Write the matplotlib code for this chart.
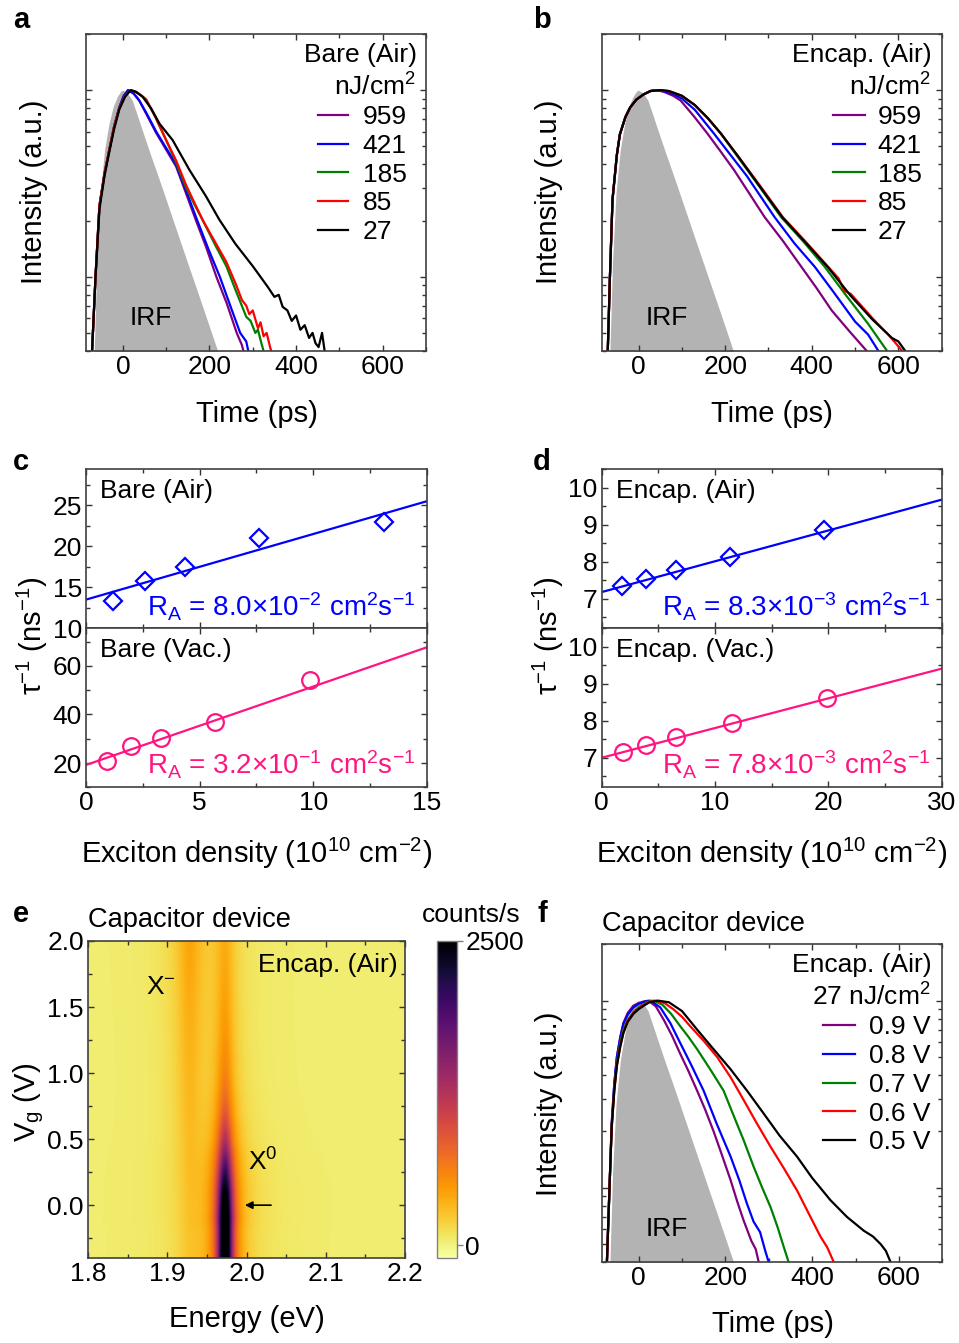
import numpy as np
import matplotlib
matplotlib.use('Agg')
import matplotlib.pyplot as plt
import matplotlib.ticker as mt
from matplotlib.ticker import MultipleLocator, LogLocator, NullFormatter

plt.rcParams['font.family'] = ['Liberation Sans', 'DejaVu Sans']
plt.rcParams['mathtext.fontset'] = 'custom'
plt.rcParams['mathtext.rm'] = 'Liberation Sans'
plt.rcParams['mathtext.it'] = 'Liberation Sans:italic'
plt.rcParams['mathtext.bf'] = 'Liberation Sans:bold'

# ---------------- data ----------------
irf_t = [-70, -66, -60, -52, -42, -32, -22, -12, -4, 0, 6, 14, 22, 40, 60, 80, 100, 120, 140, 160, 180, 200, 219, 226]
irf_I = [0.03, 0.04, 0.12, 0.28, 0.48, 0.66, 0.82, 0.93, 0.99, 1.0, 0.98, 0.94, 0.88, 0.66, 0.48, 0.354, 0.259, 0.189, 0.138, 0.101, 0.074, 0.054, 0.040, 0.035]

fluence_labels = ['959', '421', '185', '85', '27']
voltage_labels = ['0.9 V', '0.8 V', '0.7 V', '0.6 V', '0.5 V']
curve_colors = ['#800080', '#0000ff', '#008000', '#ff0000', '#000000']

# panel a: bare (air)
a_t_959 = [-76, -71, -63, -54, -42, -31, -20, -8, 2, 12, 25, 38, 55, 77, 100, 123, 146, 169, 192, 216, 240, 263, 275, 285]
a_I_959 = [0.03, 0.04, 0.10, 0.24, 0.36, 0.48, 0.64, 0.81, 0.93, 1.0, 0.96, 0.88, 0.74, 0.59, 0.48, 0.39, 0.28, 0.20, 0.145, 0.10, 0.072, 0.05, 0.043, 0.035]
a_t_421 = [-76, -71, -63, -54, -42, -31, -20, -8, 2, 12, 25, 38, 55, 77, 100, 123, 146, 172, 198, 224, 250, 271, 285, 295]
a_I_421 = [0.03, 0.04, 0.10, 0.24, 0.36, 0.48, 0.64, 0.81, 0.93, 1.0, 0.96, 0.88, 0.75, 0.60, 0.49, 0.40, 0.29, 0.20, 0.14, 0.10, 0.068, 0.05, 0.045, 0.035]
a_t_185 = [-76, -71, -63, -54, -42, -31, -20, -8, 5, 18, 30, 42, 54, 75, 100, 123, 146, 165, 185, 212, 239, 262, 285, 295, 306, 312, 320, 332]
a_I_185 = [0.03, 0.04, 0.10, 0.24, 0.36, 0.48, 0.64, 0.80, 0.93, 1.0, 0.98, 0.94, 0.89, 0.72, 0.54, 0.41, 0.30, 0.245, 0.20, 0.15, 0.114, 0.083, 0.061, 0.058, 0.050, 0.052, 0.044, 0.035]
a_t_85 = [-76, -71, -63, -54, -42, -31, -20, -8, 5, 18, 30, 42, 54, 75, 100, 123, 146, 165, 185, 212, 239, 262, 275, 285, 292, 300, 312, 318, 325, 332, 340, 350]
a_I_85 = [0.03, 0.04, 0.10, 0.24, 0.36, 0.48, 0.64, 0.80, 0.93, 1.0, 0.98, 0.94, 0.89, 0.72, 0.54, 0.42, 0.31, 0.25, 0.20, 0.155, 0.12, 0.09, 0.075, 0.070, 0.063, 0.066, 0.053, 0.057, 0.048, 0.050, 0.042, 0.035]
a_t_27 = [-76, -71, -63, -54, -42, -31, -20, -8, 5, 18, 30, 46, 65, 85, 115, 154, 192, 223, 260, 300, 335, 350, 360, 369, 380, 390, 400, 410, 420, 430, 438, 445, 452, 460, 466, 476]
a_I_27 = [0.03, 0.04, 0.10, 0.23, 0.35, 0.47, 0.62, 0.79, 0.92, 1.0, 0.98, 0.92, 0.80, 0.66, 0.54, 0.373, 0.27, 0.202, 0.15, 0.114, 0.088, 0.078, 0.080, 0.069, 0.066, 0.058, 0.062, 0.052, 0.055, 0.047, 0.050, 0.044, 0.042, 0.050, 0.040, 0.035]

# panel b: encapsulated (air)
b_t_959 = [-76, -71, -66, -60, -50, -43, -30, -19, -5, 12, 28, 43, 60, 80, 97, 128, 159, 190, 221, 256, 291, 334, 376, 411, 446, 487, 527, 540]
b_I_959 = [0.03, 0.04, 0.10, 0.26, 0.45, 0.58, 0.72, 0.81, 0.89, 0.95, 0.99, 1.0, 0.977, 0.933, 0.881, 0.724, 0.586, 0.468, 0.372, 0.279, 0.209, 0.155, 0.113, 0.087, 0.066, 0.051, 0.040, 0.035]
b_t_421 = [-76, -71, -66, -60, -50, -43, -30, -19, -5, 12, 28, 45, 60, 80, 100, 130, 174, 210, 250, 314, 360, 407, 450, 500, 530, 554, 565]
b_I_421 = [0.03, 0.04, 0.10, 0.26, 0.45, 0.58, 0.72, 0.81, 0.89, 0.95, 0.99, 1.0, 0.989, 0.955, 0.902, 0.785, 0.586, 0.457, 0.347, 0.209, 0.151, 0.113, 0.083, 0.0575, 0.049, 0.040, 0.035]
b_t_185 = [-76, -71, -66, -60, -50, -43, -30, -19, -5, 12, 28, 48, 70, 100, 130, 160, 190, 230, 280, 329, 380, 430, 480, 530, 574, 585]
b_I_185 = [0.03, 0.04, 0.10, 0.26, 0.45, 0.58, 0.72, 0.81, 0.89, 0.95, 0.99, 1.0, 0.989, 0.933, 0.832, 0.708, 0.586, 0.436, 0.302, 0.209, 0.155, 0.113, 0.079, 0.056, 0.040, 0.035]
b_t_85 = [-76, -71, -66, -60, -50, -43, -30, -19, -5, 12, 28, 50, 70, 100, 130, 160, 190, 230, 280, 333, 385, 438, 462, 475, 490, 540, 580, 609, 620]
b_I_85 = [0.03, 0.04, 0.10, 0.26, 0.45, 0.58, 0.72, 0.81, 0.89, 0.95, 0.99, 1.0, 0.989, 0.933, 0.832, 0.708, 0.586, 0.442, 0.309, 0.209, 0.155, 0.113, 0.098, 0.084, 0.081, 0.060, 0.048, 0.040, 0.035]
b_t_27 = [-76, -71, -66, -60, -50, -43, -30, -19, -5, 12, 28, 50, 70, 100, 130, 160, 190, 230, 280, 333, 385, 438, 490, 540, 585, 600, 616, 625]
b_I_27 = [0.03, 0.04, 0.10, 0.26, 0.45, 0.58, 0.72, 0.81, 0.89, 0.95, 0.99, 1.0, 0.989, 0.933, 0.832, 0.708, 0.586, 0.442, 0.305, 0.207, 0.153, 0.112, 0.079, 0.059, 0.047, 0.045, 0.040, 0.035]

# panel f: capacitor device, gate voltages
f_t_09 = [-78, -73, -67, -62, -56, -50, -42, -35, -25, -12, 0, 12, 23, 40, 58, 77, 96, 115, 135, 154, 173, 192, 212, 227, 242, 260, 270, 277, 283]
f_I_09 = [0.03, 0.04, 0.10, 0.22, 0.36, 0.50, 0.64, 0.76, 0.86, 0.94, 0.97, 0.99, 1.0, 0.93, 0.79, 0.65, 0.52, 0.42, 0.33, 0.26, 0.20, 0.15, 0.11, 0.085, 0.067, 0.052, 0.047, 0.040, 0.035]
f_t_08 = [-78, -73, -67, -62, -56, -50, -42, -35, -25, -12, 0, 12, 28, 50, 73, 95, 120, 150, 180, 212, 232, 250, 265, 280, 292, 300, 306]
f_I_08 = [0.03, 0.04, 0.10, 0.22, 0.36, 0.50, 0.64, 0.75, 0.84, 0.92, 0.96, 0.985, 1.0, 0.92, 0.76, 0.60, 0.46, 0.33, 0.22, 0.147, 0.11, 0.082, 0.066, 0.058, 0.046, 0.040, 0.035]
f_t_07 = [-78, -73, -67, -62, -56, -50, -42, -35, -25, -12, 0, 12, 24, 35, 55, 75, 96, 115, 135, 165, 196, 220, 242, 265, 285, 304, 320, 335, 346, 352]
f_I_07 = [0.03, 0.04, 0.10, 0.21, 0.34, 0.47, 0.60, 0.70, 0.79, 0.87, 0.92, 0.96, 0.99, 1.0, 0.95, 0.85, 0.73, 0.64, 0.55, 0.43, 0.33, 0.24, 0.18, 0.13, 0.10, 0.079, 0.062, 0.048, 0.040, 0.035]
f_t_06 = [-78, -73, -67, -62, -56, -50, -42, -35, -25, -12, 0, 12, 25, 40, 60, 80, 100, 119, 150, 181, 212, 242, 273, 304, 335, 365, 392, 419, 435, 450, 456]
f_I_06 = [0.03, 0.04, 0.10, 0.21, 0.33, 0.45, 0.58, 0.68, 0.78, 0.86, 0.91, 0.95, 0.985, 1.0, 0.97, 0.90, 0.82, 0.73, 0.61, 0.50, 0.39, 0.295, 0.22, 0.166, 0.127, 0.097, 0.073, 0.055, 0.048, 0.040, 0.035]
f_t_05 = [-78, -73, -67, -62, -56, -50, -42, -35, -25, -12, 0, 12, 25, 45, 70, 100, 135, 170, 212, 250, 288, 325, 365, 400, 442, 480, 519, 540, 558, 570, 581, 588]
f_I_05 = [0.03, 0.04, 0.10, 0.21, 0.33, 0.45, 0.57, 0.67, 0.77, 0.85, 0.90, 0.94, 0.98, 1.0, 0.98, 0.88, 0.70, 0.56, 0.43, 0.33, 0.25, 0.19, 0.147, 0.113, 0.086, 0.070, 0.059, 0.055, 0.050, 0.046, 0.040, 0.035]

# panel c / d: decay rate vs exciton density
c_air_n = [1.2, 2.6, 4.36, 7.6, 13.1]
c_air_rate = [13.3, 15.8, 17.5, 21.0, 23.0]
c_air_fit = (13.5, 0.80)          # intercept, slope
c_vac_n = [0.91, 1.97, 3.3, 5.68, 9.87]
c_vac_rate = [20.8, 27.0, 30.2, 37.0, 54.0]
c_vac_fit = (19.2, 3.23)
d_air_n = [1.76, 3.88, 6.53, 11.3, 19.6]
d_air_rate = [7.34, 7.54, 7.77, 8.135, 8.86]
d_air_fit = (7.18, 0.0833)
d_vac_n = [1.85, 3.9, 6.56, 11.5, 19.9]
d_vac_rate = [7.16, 7.35, 7.55, 7.94, 8.62]
d_vac_fit = (7.0, 0.0803)

# panel e: gate-dependent PL map (peak parameters per gate-voltage row)
e_vg = [-0.4, -0.3, -0.2, -0.1, 0.0, 0.1, 0.2, 0.3, 0.4, 0.5, 0.6, 0.7, 0.8, 0.9, 1.0, 1.1, 1.2, 1.3, 1.4, 1.5, 1.6, 1.7, 1.8, 1.9, 2.0]
e_x0_amp = [3400, 3400, 3350, 3250, 3050, 2700, 2250, 1850, 1500, 1220, 1000, 830, 700, 610, 550, 500, 460, 430, 400, 380, 360, 345, 330, 320, 310]
e_x0_fwhm = [0.015, 0.015, 0.015, 0.016, 0.016, 0.017, 0.018, 0.019, 0.020, 0.020, 0.021, 0.021, 0.022, 0.022, 0.022, 0.023, 0.023, 0.023, 0.024, 0.024, 0.024, 0.025, 0.025, 0.025, 0.025]
e_xm_amp = [140, 140, 145, 150, 155, 165, 175, 190, 200, 210, 225, 240, 250, 260, 270, 280, 290, 300, 310, 320, 330, 340, 350, 360, 370]
e_x0_energy = 1.973
e_xm_energy = 1.928
e_xm_fwhm = 0.034
e_background = 30

# ---------------- figure ----------------
W, H = 959, 1343
fig = plt.figure(figsize=(W / 100, H / 100), dpi=100)
TS = 19
LS = 21
RS = 20
SPINE = '#404040'
PINK = '#ff1480'
BLUE = '#0000ff'


def add_ax(l, t, r, b):
    return fig.add_axes([l / W, 1 - b / H, (r - l) / W, (b - t) / H])


def ftext(x, y, s, **kw):
    return fig.text(x / W, 1 - y / H, s, **kw)


def style(ax):
    ax.tick_params(which='both', direction='in', top=True, right=True,
                   labelsize=TS, pad=3, color='#333333')
    ax.tick_params(which='major', length=4.5, width=1.0)
    ax.tick_params(which='minor', length=2.6, width=1.0)
    for s in ax.spines.values():
        s.set_linewidth(1.2)
        s.set_color(SPINE)


def set_xlabel_px(ax, text, x_px, base_px, box):
    l, t, r, b = box
    ax.set_xlabel(text, fontsize=LS)
    ax.xaxis.label.set_va('baseline')
    ax.xaxis.set_label_coords((x_px - l) / (r - l), (b - base_px) / (b - t))


def set_ylabel_px(ax, text, base_x_px, y_px, box):
    l, t, r, b = box
    ax.set_ylabel(text, fontsize=LS)
    ax.yaxis.label.set_va('baseline')
    ax.yaxis.set_label_coords((base_x_px - l) / (r - l), (b - y_px) / (b - t))


def decay_panel(box, curves, labels, title1, title2, leg_left, title_right, handle_len, text_pad):
    ax = add_ax(*box)
    ax.fill_between(irf_t, 1e-3, irf_I, color='#b3b3b3', lw=0, zorder=1)
    handles = []
    for (t, I), c in zip(curves, curve_colors):
        h, = ax.plot(t, I, color=c, lw=1.6, zorder=2)
        handles.append(h)
    ax.set_yscale('log')
    ax.set_ylim(0.04, 2.0)
    ax.set_xlim(-85, 700)
    ax.xaxis.set_major_locator(MultipleLocator(200))
    ax.xaxis.set_minor_locator(MultipleLocator(100))
    ax.yaxis.set_major_locator(LogLocator(base=10, numticks=10))
    ax.yaxis.set_minor_locator(LogLocator(base=10, subs=np.arange(2, 10), numticks=10))
    ax.yaxis.set_major_formatter(NullFormatter())
    ax.yaxis.set_minor_formatter(NullFormatter())
    style(ax)
    ax.text(65, 0.060, 'IRF', ha='center', va='center', fontsize=TS, zorder=3)
    l, t, r, b = box
    ytop = t + 71
    ax.legend(handles, labels, loc='upper left',
              bbox_to_anchor=(leg_left / W, 1 - ytop / H), bbox_transform=fig.transFigure,
              frameon=False, fontsize=TS, handlelength=handle_len, handletextpad=text_pad,
              labelspacing=0.18, borderpad=0, borderaxespad=0)
    ftext(title_right, t + 27.7, title1, ha='right', va='baseline', fontsize=TS)
    ftext(title_right - 1, t + 61.7, title2, ha='right', va='baseline', fontsize=TS)
    return ax


# ---- panel a ----
box_a = (86, 34, 426, 351)
ax_a = decay_panel(box_a, [(a_t_959, a_I_959), (a_t_421, a_I_421), (a_t_185, a_I_185),
                           (a_t_85, a_I_85), (a_t_27, a_I_27)],
                   fluence_labels, 'Bare (Air)', 'nJ/cm$^{2}$', 318, 417, 1.14, 0.56)
set_xlabel_px(ax_a, 'Time (ps)', 256.7, 422, box_a)
set_ylabel_px(ax_a, 'Intensity (a.u.)', 41.7, 191.5, box_a)

# ---- panel b ----
box_b = (601.7, 34, 941.7, 351)
ax_b = decay_panel(box_b, [(b_t_959, b_I_959), (b_t_421, b_I_421), (b_t_185, b_I_185),
                           (b_t_85, b_I_85), (b_t_27, b_I_27)],
                   fluence_labels, 'Encap. (Air)', 'nJ/cm$^{2}$', 833, 932, 1.2, 0.5)
set_xlabel_px(ax_b, 'Time (ps)', 771.7, 422, box_b)
set_ylabel_px(ax_b, 'Intensity (a.u.)', 557.3, 191.5, box_b)


# ---- panels c, d ----
def rate_pair(box_top, box_bot, xmax, air, vac, ylim_top, ylim_bot, loc_top, loc_bot,
              xmaj, xmin, label_top, label_bot, ra_top, ra_bot, ylab_x, xlab_x):
    axt = add_ax(*box_top)
    axb = add_ax(*box_bot)
    xs = np.array([0.0, xmax])
    (n1, r1, f1), (n2, r2, f2) = air, vac
    axt.plot(xs, f1[0] + f1[1] * xs, color=BLUE, lw=1.6)
    axt.plot(n1, r1, ls='none', marker='D', ms=9, mfc='none', mec=BLUE, mew=1.6)
    axb.plot(xs, f2[0] + f2[1] * xs, color=PINK, lw=1.6)
    axb.plot(n2, r2, ls='none', marker='o', ms=12, mfc='none', mec=PINK, mew=1.6)
    for ax, yl, (ma, mi) in ((axt, ylim_top, loc_top), (axb, ylim_bot, loc_bot)):
        ax.set_xlim(0, xmax)
        ax.set_ylim(*yl)
        ax.xaxis.set_major_locator(MultipleLocator(xmaj))
        ax.xaxis.set_minor_locator(MultipleLocator(xmin))
        ax.yaxis.set_major_locator(MultipleLocator(ma))
        ax.yaxis.set_minor_locator(MultipleLocator(mi))
        style(ax)
    axt.tick_params(labelbottom=False)
    l, t, r, b = box_top
    ftext(l + 14, t + 29, label_top, ha='left', va='baseline', fontsize=TS)
    ftext(l + 14, box_bot[1] + 28.4, label_bot, ha='left', va='baseline', fontsize=TS)
    ftext(r - 11.7, t + 147.4, ra_top, ha='right', va='baseline', fontsize=RS, color=BLUE)
    ftext(r - 11.7, box_bot[1] + 146.5, ra_bot, ha='right', va='baseline', fontsize=RS, color=PINK)
    set_ylabel_px(axt, 'τ$^{-1}$ (ns$^{-1}$)', ylab_x, 636, box_top)
    set_xlabel_px(axb, 'Exciton density (10$^{10}$ cm$^{-2}$)', xlab_x, 862.7, box_bot)
    return axt, axb


rate_pair((86, 469.3, 426.7, 628.3), (86, 628.3, 426.7, 787.3), 15,
          (c_air_n, c_air_rate, c_air_fit), (c_vac_n, c_vac_rate, c_vac_fit),
          (10, 29.4), (10, 75.5), (5, 2.5), (20, 10), 5, 2.5,
          'Bare (Air)', 'Bare (Vac.)',
          'R$_\\mathrm{A}$ = 8.0×10$^{-2}$ cm$^{2}$s$^{-1}$',
          'R$_\\mathrm{A}$ = 3.2×10$^{-1}$ cm$^{2}$s$^{-1}$', 41.7, 256.7)
rate_pair((601.7, 469.3, 941.7, 628.3), (601.7, 628.3, 941.7, 787.3), 30,
          (d_air_n, d_air_rate, d_air_fit), (d_vac_n, d_vac_rate, d_vac_fit),
          (6.2, 10.5), (6.2, 10.5), (1, 0.5), (1, 0.5), 10, 5,
          'Encap. (Air)', 'Encap. (Vac.)',
          'R$_\\mathrm{A}$ = 8.3×10$^{-3}$ cm$^{2}$s$^{-1}$',
          'R$_\\mathrm{A}$ = 7.8×10$^{-3}$ cm$^{2}$s$^{-1}$', 558, 771.7)

# ---- panel e ----
box_e = (88, 941, 405, 1258)
ax_e = add_ax(*box_e)
energy = np.linspace(1.8, 2.2, 801)
rows = []
for a0, w0, am in zip(e_x0_amp, e_x0_fwhm, e_xm_amp):
    lor0 = (w0 / 2) ** 2 / ((energy - e_x0_energy) ** 2 + (w0 / 2) ** 2)
    lorm = (e_xm_fwhm / 2) ** 2 / ((energy - e_xm_energy) ** 2 + (e_xm_fwhm / 2) ** 2)
    rows.append(e_background + a0 * lor0 + am * lorm)
Z = np.array(rows)
im = ax_e.imshow(Z, extent=[1.8, 2.2, e_vg[0] - 0.05, e_vg[-1] + 0.05], origin='lower',
                 aspect='auto', cmap='inferno_r', vmin=-100, vmax=2500, interpolation='bilinear')
ax_e.set_xlim(1.8, 2.2)
ax_e.set_ylim(-0.4, 2.0)
ax_e.xaxis.set_major_locator(MultipleLocator(0.1))
ax_e.xaxis.set_minor_locator(MultipleLocator(0.05))
ax_e.yaxis.set_major_locator(MultipleLocator(0.5))
ax_e.yaxis.set_minor_locator(MultipleLocator(0.25))
style(ax_e)
ax_e.xaxis.set_major_formatter(mt.FormatStrFormatter('%.1f'))
ax_e.yaxis.set_major_formatter(mt.FormatStrFormatter('%.1f'))
ftext(398, 972, 'Encap. (Air)', ha='right', va='baseline', fontsize=TS)
ftext(146, 994, 'X$^{-}$', ha='left', va='baseline', fontsize=TS)
ftext(248, 1171, 'X$^{0}$', ha='left', va='baseline', fontsize=TS)
ax_e.annotate('', xy=(1.998, 0.0), xytext=(2.031, 0.0),
              arrowprops=dict(arrowstyle='-|>', color='black', lw=1.2, mutation_scale=11,
                              shrinkA=0, shrinkB=0))
set_xlabel_px(ax_e, 'Energy (eV)', 247, 1327, box_e)
set_ylabel_px(ax_e, 'V$_\\mathrm{g}$ (V)', 35, 1102, box_e)
ftext(88, 927, 'Capacitor device', ha='left', va='baseline', fontsize=19.6)

cax = add_ax(437, 941, 457, 1257.5)
cb = fig.colorbar(im, cax=cax, ticks=[0, 2500])
cb.outline.set_edgecolor('#808080')
cb.outline.set_linewidth(1.0)
cax.tick_params(direction='out', length=4, width=1.0, labelsize=TS, pad=2, color='#808080')
ftext(471, 922, 'counts/s', ha='center', va='baseline', fontsize=TS)

# ---- panel f ----
box_f = (601.7, 944.3, 942.3, 1262.3)
ax_f = decay_panel(box_f, [(f_t_09, f_I_09), (f_t_08, f_I_08), (f_t_07, f_I_07),
                           (f_t_06, f_I_06), (f_t_05, f_I_05)],
                   voltage_labels, 'Encap. (Air)', '27 nJ/cm$^{2}$', 823, 932, 1.2, 0.55)
set_xlabel_px(ax_f, 'Time (ps)', 772.5, 1332, box_f)
set_ylabel_px(ax_f, 'Intensity (a.u.)', 556.7, 1103.5, box_f)
ftext(602, 931, 'Capacitor device', ha='left', va='baseline', fontsize=19.6)

# ---- panel letters ----
for x, y, s in ((13, 28, 'a'), (533, 28, 'b'), (13, 470, 'c'), (533, 470, 'd'),
                (13, 921.7, 'e'), (537, 921.7, 'f')):
    ftext(x, y, s, ha='left', va='baseline', fontsize=21, fontweight='bold')

fig.savefig('out.png', dpi=100)
